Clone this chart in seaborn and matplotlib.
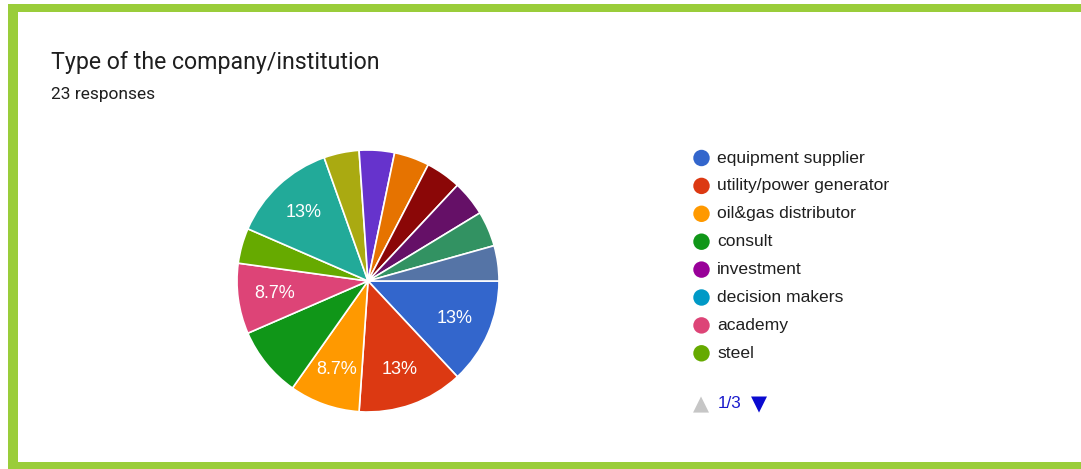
import matplotlib
matplotlib.use("Agg")
import matplotlib.pyplot as plt
import seaborn as sns
import numpy as np

# ---- data ----
categories = [
    "equipment supplier", "utility/power generator", "oil&gas distributor",
    "consult", "investment", "decision makers", "academy", "steel",
    "option 9", "option 10", "option 11", "option 12", "option 13",
    "option 14", "option 15", "option 16", "option 17", "option 18", "option 19",
]
counts = [3, 3, 2, 2, 0, 0, 2, 1, 0, 0, 0, 3, 1, 1, 1, 1, 1, 1, 1]
show_pct = [True, True, True, False, False, False, True, False, False, False,
            False, True, False, False, False, False, False, False, False]
legend_page = categories[:8]
title = "Type of the company/institution"
subtitle = "23 responses"
pager = "1/3"

palette = ["#3366cc", "#dc3912", "#ff9900", "#109618", "#990099", "#0099c6",
           "#dd4477", "#66aa00", "#b82e2e", "#316395", "#994499", "#22aa99",
           "#aaaa11", "#6633cc", "#e67300", "#8b0707", "#651067", "#329262",
           "#5574a6"]

sns.set_theme(style="white")
plt.rcParams["font.family"] = ["Roboto", "DejaVu Sans"]
arial = ["Liberation Sans", "DejaVu Sans"]

W, H = 1081, 469
fig = plt.figure(figsize=(W / 100, H / 100), dpi=100)
fig.patch.set_facecolor("white")

# overlay for frame / text / legend in pixel coords
ov = fig.add_axes([0, 0, 1, 1])
ov.set_xlim(0, W)
ov.set_ylim(H, 0)
ov.axis("off")
border = "#9acd3a"
ov.add_patch(plt.Rectangle((8, 4), W - 8, 8.5, color=border, lw=0))
ov.add_patch(plt.Rectangle((8, 4), 9.5, H - 4, color=border, lw=0))
ov.add_patch(plt.Rectangle((8, 462.5), W - 8, 7, color=border, lw=0))

ov.text(51, 63, title, fontsize=16.7, color="#1f1f1f", va="center", ha="left")
ov.text(51, 95, subtitle, fontsize=12.5, color="#1f1f1f", va="center", ha="left")

# pie
cx, cy, r = 368, 281, 131
pax = fig.add_axes([(cx - r) / W, (H - cy - r) / H, 2 * r / W, 2 * r / H])
vals = [c for c in counts if c > 0]
cols = [palette[i] for i, c in enumerate(counts) if c > 0]
flags = [show_pct[i] for i, c in enumerate(counts) if c > 0]
wedges, texts, autotexts = pax.pie(
    vals, colors=cols, startangle=0, counterclock=False, radius=1,
    autopct=lambda p: f"{p:.2g}%", pctdistance=0.72,
    wedgeprops=dict(edgecolor="white", linewidth=1.2),
    textprops=dict(color="white", fontsize=13, family=arial),
)
for t, f in zip(autotexts, flags):
    t.set_visible(f)
pax.set_xlim(-1, 1)
pax.set_ylim(-1, 1)
pax.axis("off")

# legend (page 1 of 3)
y0, dy = 158, 27.9
for i, name in enumerate(legend_page):
    y = y0 + i * dy
    ov.scatter([701.5], [y], s=140, color=palette[i], edgecolors="none")
    ov.text(717, y, name, fontsize=12.6, color="#1f1f1f", va="center", ha="left",
            family=arial)

py = 404
ov.text(701, py, "\u25B2", fontsize=15, color="#c6c6c6", va="center", ha="center",
        family=["DejaVu Sans"])
ov.text(718, py, pager, fontsize=12.3, color="#1a1acc", va="center", ha="left",
        family=arial)
ov.text(759, py, "\u25BC", fontsize=15, color="#0a0ad0", va="center", ha="center",
        family=["DejaVu Sans"])

fig.savefig("out.png", dpi=100, facecolor="white")
